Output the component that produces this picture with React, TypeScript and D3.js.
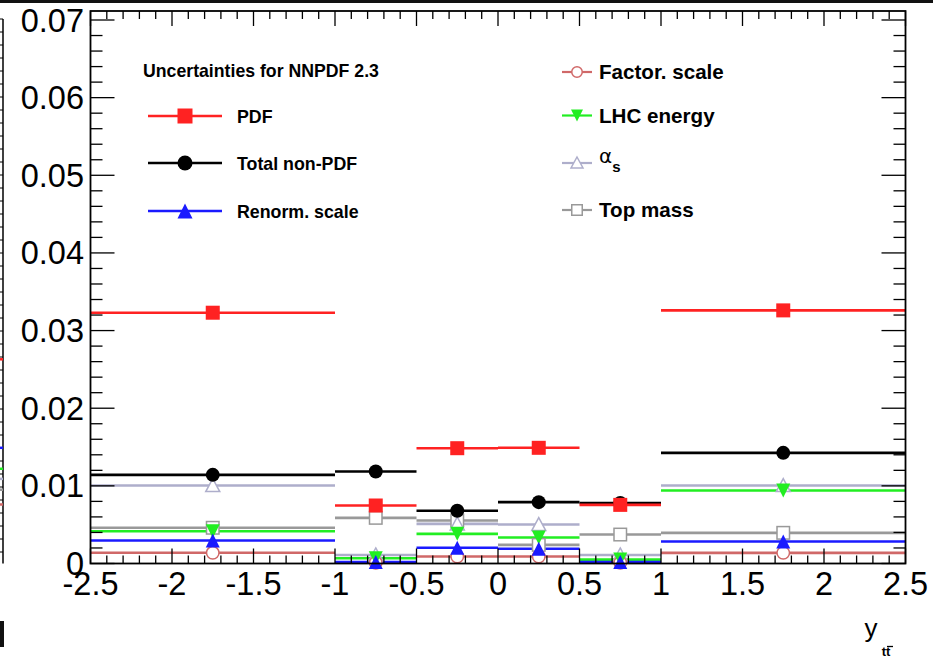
import React from "react";
import * as d3 from "d3";

const binEdges = [-2.5, -1, -0.5, 0, 0.5, 1, 2.5];
const pdf = [0.0323, 0.00747, 0.01485, 0.0149, 0.00755, 0.0326];
const totalNonPdf = [0.01142, 0.01185, 0.0068, 0.0079, 0.0078, 0.01425];
const renorm = [0.00296, 0.0002, 0.00202, 0.0019, 0.0002, 0.00283];
const factor = [0.00138, 0.0001, 0.0009, 0.0009, 0.0001, 0.00137];
const lhcEnergy = [0.00416, 0.00068, 0.00382, 0.00335, 0.0005, 0.0094];
const alphaS = [0.01004, 0.0011, 0.0051, 0.00502, 0.0011, 0.01004];
const topMass = [0.0046, 0.00588, 0.00554, 0.0024, 0.00373, 0.00395];

const xTickValues = [-2.5, -2, -1.5, -1, -0.5, 0, 0.5, 1, 1.5, 2, 2.5];
const xTickLabels = ["-2.5", "-2", "-1.5", "-1", "-0.5", "0", "0.5", "1", "1.5", "2", "2.5"];
const yTickValues = [0, 0.01, 0.02, 0.03, 0.04, 0.05, 0.06, 0.07];
const yTickLabels = ["0", "0.01", "0.02", "0.03", "0.04", "0.05", "0.06", "0.07"];

// left neighbour-pad stub values (on the same y scale)
const leftStubValues = [0.0263, 0.0149, 0.0122, 0.0109, 0.0095, 0.0076];
const leftStubColors = ["#ff2222", "#1a1aff", "#22ee22", "#b0b0cc", "#999999", "#d06868"];

type Series = { name: string; values: number[]; color: string; marker: string };

const series: Series[] = [
  { name: "Top mass", values: topMass, color: "#999999", marker: "openSquare" },
  { name: "alphas", values: alphaS, color: "#aeaecb", marker: "openTriUp" },
  { name: "Factor. scale", values: factor, color: "#d06868", marker: "openCircle" },
  { name: "LHC energy", values: lhcEnergy, color: "#22ee22", marker: "triDown" },
  { name: "Renorm. scale", values: renorm, color: "#1a1aff", marker: "triUp" },
  { name: "Total non-PDF", values: totalNonPdf, color: "#000000", marker: "circle" },
  { name: "PDF", values: pdf, color: "#ff2222", marker: "square" },
];

const FONT = "'Liberation Sans', Arial, Helvetica, sans-serif";

function Marker({ type, cx, cy, color, s }: { type: string; cx: number; cy: number; color: string; s: number }) {
  const h = s / 2;
  switch (type) {
    case "square":
      return <rect x={cx - h} y={cy - h} width={s} height={s} fill={color} />;
    case "circle":
      return <circle cx={cx} cy={cy} r={h} fill={color} />;
    case "triUp":
      return <path d={`M${cx},${cy - h}L${cx + h},${cy + h}L${cx - h},${cy + h}Z`} fill={color} />;
    case "triDown":
      return <path d={`M${cx},${cy + h}L${cx + h},${cy - h}L${cx - h},${cy - h}Z`} fill={color} />;
    case "openSquare":
      return <rect x={cx - h + 0.75} y={cy - h + 0.75} width={s - 1.5} height={s - 1.5} fill="white" stroke={color} strokeWidth={1.5} />;
    case "openCircle":
      return <circle cx={cx} cy={cy} r={h - 0.75} fill="white" stroke={color} strokeWidth={1.5} />;
    case "openTriUp":
      return <path d={`M${cx},${cy - h}L${cx + h},${cy + h - 1}L${cx - h},${cy + h - 1}Z`} fill="white" stroke={color} strokeWidth={1.5} />;
    default:
      return null;
  }
}

export default function App() {
  const W = 933, H = 659;
  const x = d3.scaleLinear().domain([-2.5, 2.5]).range([90.5, 905.5]);
  const y = d3.scaleLinear().domain([0, 0.07]).range([563.5, 20]);
  const frameTop = 11;
  const left = x(-2.5), right = x(2.5), bottom = y(0);

  const xMinor = d3.range(-25, 26).map((d) => d / 10);
  const yMinor = d3.range(0, 36).map((d) => d * 0.002).filter((v) => y(v) > frameTop + 1);

  const bins = binEdges.slice(0, -1).map((lo, i) => ({ lo, hi: binEdges[i + 1], c: (lo + binEdges[i + 1]) / 2, i }));

  const openTypes = ["openSquare", "openTriUp", "openCircle"];

  const legendLeft = [
    { label: "PDF", color: "#ff2222", marker: "square", ly: 116 },
    { label: "Total non-PDF", color: "#000000", marker: "circle", ly: 163 },
    { label: "Renorm. scale", color: "#1a1aff", marker: "triUp", ly: 211 },
  ];
  const legendRight = [
    { label: "Factor. scale", color: "#d06868", marker: "openCircle", ly: 72 },
    { label: "LHC energy", color: "#22ee22", marker: "triDown", ly: 115.5 },
    { label: "", color: "#aeaecb", marker: "openTriUp", ly: 163 },
    { label: "Top mass", color: "#999999", marker: "openSquare", ly: 210 },
  ];

  return (
    <svg width={W} height={H} style={{ display: "block", position: "absolute", left: 0, top: 0 }} fontFamily={FONT}>
      <rect x={0} y={0} width={W} height={H} fill="white" />
      {/* top dark band */}
      <rect x={0} y={0} width={W} height={3} fill="#111" />

      {/* neighbouring pad stub on the left */}
      <line x1={3} x2={3} y1={19} y2={bottom} stroke="#000" strokeWidth={1.5} />
      {d3.range(0, 42).map((k) => {
        const yy = 19 + k * 13;
        return yy < bottom ? <line key={"ls" + k} x1={0} x2={3} y1={yy} y2={yy} stroke="#000" strokeWidth={1} /> : null;
      })}
      {leftStubValues.map((v, i) => (
        <line key={"lsv" + i} x1={0} x2={3} y1={y(v)} y2={y(v)} stroke={leftStubColors[i]} strokeWidth={2.5} />
      ))}
      <rect x={0} y={621} width={4} height={26} fill="#111" />

      {/* histogram lines */}
      {series.map((s) =>
        bins.map((b) => (
          <line key={s.name + "l" + b.i} x1={x(b.lo)} x2={x(b.hi)} y1={y(s.values[b.i])} y2={y(s.values[b.i])} stroke={s.color} strokeWidth={2.6} />
        ))
      )}
      {/* open markers first, then filled */}
      {series.filter((s) => openTypes.includes(s.marker)).map((s) =>
        bins.map((b) => <Marker key={s.name + "m" + b.i} type={s.marker} cx={x(b.c)} cy={y(s.values[b.i])} color={s.color} s={14} />)
      )}
      {series.filter((s) => !openTypes.includes(s.marker)).map((s) =>
        bins.map((b) => <Marker key={s.name + "m" + b.i} type={s.marker} cx={x(b.c)} cy={y(s.values[b.i])} color={s.color} s={14} />)
      )}

      {/* frame */}
      <rect x={left} y={frameTop} width={right - left} height={bottom - frameTop} fill="none" stroke="#000" strokeWidth={1.8} />

      {/* x ticks bottom & top */}
      {xMinor.map((v, k) => {
        const major = Math.abs(v * 2 - Math.round(v * 2)) < 1e-9;
        const len = major ? 15 : 8;
        return (
          <g key={"xt" + k}>
            <line x1={x(v)} x2={x(v)} y1={bottom} y2={bottom - len} stroke="#000" strokeWidth={1.3} />
            <line x1={x(v)} x2={x(v)} y1={frameTop} y2={frameTop + len} stroke="#000" strokeWidth={1.3} />
          </g>
        );
      })}
      {/* y ticks left & right */}
      {yMinor.map((v, k) => {
        const major = k % 5 === 0;
        const len = major ? 24 : 12;
        return (
          <g key={"yt" + k}>
            <line x1={left} x2={left + len} y1={y(v)} y2={y(v)} stroke="#000" strokeWidth={1.3} />
            <line x1={right} x2={right - len} y1={y(v)} y2={y(v)} stroke="#000" strokeWidth={1.3} />
          </g>
        );
      })}

      {/* tick labels */}
      {yTickValues.map((v, i) => (
        <text key={"yl" + i} x={84} y={y(v) + 11.5} textAnchor="end" fontSize={32.5} fill="#000">{yTickLabels[i]}</text>
      ))}
      {xTickValues.map((v, i) => (
        <text key={"xl" + i} x={x(v)} y={595} textAnchor="middle" fontSize={32.5} fill="#000">{xTickLabels[i]}</text>
      ))}

      {/* axis title */}
      <text x={871} y={637} textAnchor="middle" fontSize={26} fill="#000">y</text>
      <text x={886} y={656} textAnchor="middle" fontSize={13} fontWeight="bold" fill="#000">tt</text>
      <line x1={887} x2={893} y1={646.5} y2={646.5} stroke="#000" strokeWidth={1.3} />

      {/* legend */}
      <text x={143} y={77} fontSize={17.7} fontWeight="bold" fill="#000">Uncertainties for NNPDF 2.3</text>
      {legendLeft.map((e) => (
        <g key={e.label}>
          <line x1={148} x2={222} y1={e.ly} y2={e.ly} stroke={e.color} strokeWidth={2.6} />
          <Marker type={e.marker} cx={185} cy={e.ly} color={e.color} s={15} />
          <text x={237} y={e.ly + 6.5} fontSize={17.8} fontWeight="bold" fill="#000">{e.label}</text>
        </g>
      ))}
      {legendRight.map((e, i) => (
        <g key={"lr" + i}>
          <line x1={562} x2={592} y1={e.ly} y2={e.ly} stroke={e.color} strokeWidth={2.2} />
          <Marker type={e.marker} cx={577} cy={e.ly} color={e.color} s={12} />
          {e.label ? (
            <text x={599} y={e.ly + 7} fontSize={20.6} fontWeight="bold" fill="#000">{e.label}</text>
          ) : (
            <text x={599} y={e.ly} fill="#000">
              <tspan fontSize={20} fontFamily="'DejaVu Sans', sans-serif">α</tspan>
              <tspan fontSize={15} fontWeight="bold" dy={8.5}>s</tspan>
            </text>
          )}
        </g>
      ))}
    </svg>
  );
}
